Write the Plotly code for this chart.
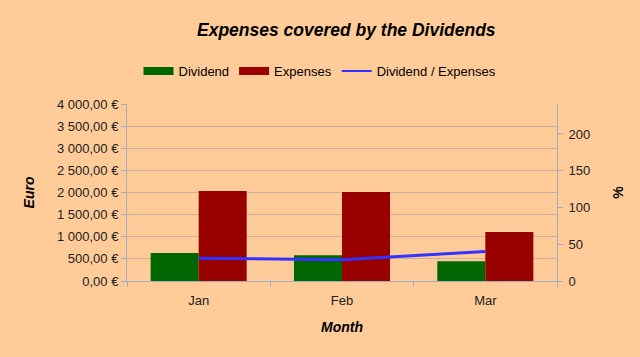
import plotly.graph_objects as go

months = ["Jan", "Feb", "Mar"]
dividend = [633, 580, 445]
expenses = [2034, 2010, 1107]
ratio_pct = [31.1, 28.9, 40.2]

euro_ticks = [0, 500, 1000, 1500, 2000, 2500, 3000, 3500, 4000]
euro_labels = ["0,00 €", "500,00 €", "1 000,00 €", "1 500,00 €", "2 000,00 €",
               "2 500,00 €", "3 000,00 €", "3 500,00 €", "4 000,00 €"]
pct_ticks = [0, 50, 100, 150, 200]

BG = "#FFCC99"
GRID = "#C8B0A0"
AXIS = "#A4AABF"
FONT = "Liberation Sans, Arial, sans-serif"
GREEN = "#006600"
RED = "#990000"
BLUE = "#3333FF"

fig = go.Figure()
fig.add_trace(go.Bar(x=months, y=dividend, name="Dividend", marker_color=GREEN,
                     marker_line_width=0, showlegend=False))
fig.add_trace(go.Bar(x=months, y=expenses, name="Expenses", marker_color=RED,
                     marker_line_width=0, showlegend=False))
fig.add_trace(go.Scatter(x=months, y=ratio_pct, name="Dividend / Expenses", mode="lines",
                         line=dict(color=BLUE, width=3), yaxis="y2", showlegend=False))
# legend entries (wide swatches like the reference)
fig.add_trace(go.Scatter(x=[None], y=[None], name="Dividend", mode="lines",
                         line=dict(color=GREEN, width=8)))
fig.add_trace(go.Scatter(x=[None], y=[None], name="Expenses", mode="lines",
                         line=dict(color=RED, width=8)))
fig.add_trace(go.Scatter(x=[None], y=[None], name="Dividend / Expenses", mode="lines",
                         line=dict(color=BLUE, width=2)))

fig.update_layout(
    width=640, height=357,
    paper_bgcolor=BG, plot_bgcolor=BG,
    font=dict(family=FONT, size=13, color="#222222"),
    margin=dict(l=127, r=83, t=104, b=76, autoexpand=False),
    barmode="group", bargap=0.33, bargroupgap=0,
    title=dict(text="<b><i>Expenses covered by the Dividends</i></b>",
               x=0.51, xref="paper", xanchor="center",
               y=1 - 30 / 357, yref="container", yanchor="middle",
               font=dict(size=17.5, color="#000000")),
    legend=dict(orientation="h", xref="container", x=0.5, xanchor="center",
                yref="container", y=1 - 71 / 357, yanchor="middle",
                font=dict(size=13, color="#000000"), bgcolor="rgba(0,0,0,0)",
                itemwidth=30, tracegroupgap=0),
    xaxis=dict(title=dict(text="<b><i>Month</i></b>", font=dict(size=14, color="#000000"),
                          standoff=15),
               automargin=False,
               showline=True, linecolor=AXIS, linewidth=1,
               ticks="outside", tickson="boundaries", ticklen=5, tickcolor=AXIS,
               ticklabelstandoff=7,
               showgrid=False, tickfont=dict(size=13, color="#222222")),
    yaxis=dict(title=dict(text="<b><i>Euro</i></b>", font=dict(size=14, color="#000000"),
                          standoff=19),
               automargin=False,
               range=[0, 4000], tickvals=euro_ticks, ticktext=euro_labels,
               showline=True, linecolor=AXIS, linewidth=1,
               ticks="outside", ticklen=5, tickcolor=AXIS,
               showgrid=True, gridcolor=GRID, gridwidth=1, zeroline=False),
    yaxis2=dict(title=dict(text="<b>%</b>", font=dict(size=14, color="#000000"),
                           standoff=23),
                automargin=False,
                overlaying="y", side="right", range=[0, 240.8],
                tickvals=pct_ticks, ticklabelstandoff=3,
                showline=True, linecolor=AXIS, linewidth=1,
                ticks="outside", ticklen=5, tickcolor=AXIS,
                showgrid=False, zeroline=False),
)

fig.write_html("out.html", config={"displayModeBar": False},
               post_script="document.body.style.margin='0';")
